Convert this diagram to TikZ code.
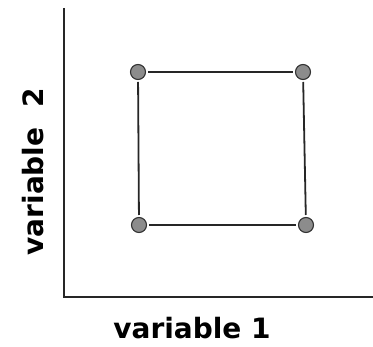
\documentclass[tikz,border=0pt]{standalone}
\usepackage{fontspec}
\setmainfont{DejaVu Sans}
\usepackage{tikz}
\usetikzlibrary{positioning, calc}
\definecolor{DotGrey}{HTML}{8C8C8C}

\begin{document}
\begin{tikzpicture}[x=1pt, y=-1pt, every node/.style={transform shape}]
    \tikzstyle{point} = [circle, draw=black!80, fill=DotGrey, line width=1.1pt, minimum size=15pt, inner sep=0pt, outer sep=2.5pt]
    \tikzstyle{axis} = [draw, line width=1.8pt, black!85]
    \tikzstyle{line} = [draw, line width=1.8pt, black!85]
    \tikzstyle{label} = [font=\bfseries\fontsize{28}{30}\selectfont, inner sep=0pt]
    \useasboundingbox (0,0) rectangle (373,347);

    \coordinate (origin) at (64,297);
    \coordinate (ytop) at (64,8);
    \coordinate (xend) at (373,297);
    \path [axis] (ytop) -- (origin) -- (xend);

    \node [point] (tl) at (138,72) {};
    \node [point] (tr) at (303,72) {};
    \node [point] (bl) at (139,225) {};
    \node [point] (br) at (306,225) {};

    \path [line] (tl) -- (tr);
    \path [line] (tl) -- (bl);
    \path [line] (tr) -- (br);
    \path [line] (bl) -- (br);

    \node [label] (xlabel) at (192,328) {variable 1};
    \node [label, rotate=90] (ylabel) at (33,172) {variable\ \ 2};
\end{tikzpicture}
\end{document}
